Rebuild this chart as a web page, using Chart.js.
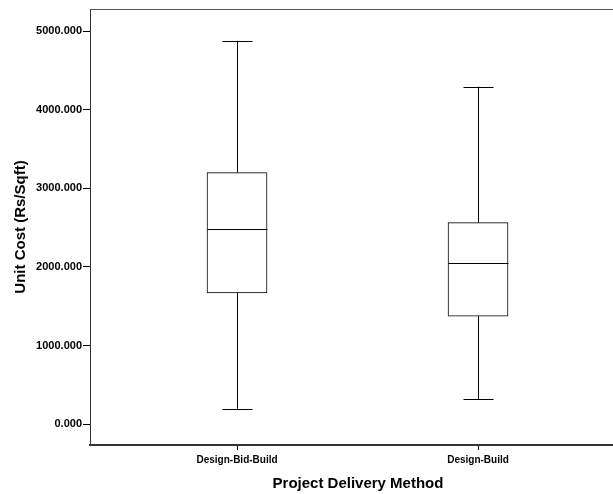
<!DOCTYPE html>
<html>
<head>
<meta charset="utf-8">
<script src="https://cdn.jsdelivr.net/npm/chart.js@4/dist/chart.umd.min.js"></script>
<style>
  html, body { margin: 0; padding: 0; background: #fff; overflow: hidden; }
  #wrap { width: 613px; height: 494px; overflow: hidden; }
</style>
</head>
<body>
<div id="wrap"><canvas id="boxChart" width="626" height="494"></canvas></div>
<script>
// Box plot values
const categories = ['Design-Bid-Build', 'Design-Build'];
const positions = [1, 2];
const whiskerLow = [195, 313];
const q1 = [1670, 1374];
const median = [2485, 2052];
const q3 = [3201, 2565];
const whiskerHigh = [4880, 4295];
const yTicks = [0, 1000, 2000, 3000, 4000, 5000];

const fontFamily = '"Liberation Sans", Arial, sans-serif';

// Whiskers, caps and median lines, drawn through the chart scales
const boxExtras = {
    id: 'boxExtras',
    afterDatasetsDraw(chart) {
        const ctx = chart.ctx;
        const xs = chart.scales.x;
        const ys = chart.scales.y;
        const meta = chart.getDatasetMeta(0);
        ctx.save();
        ctx.strokeStyle = '#000';
        ctx.lineWidth = 1;
        positions.forEach((p, i) => {
            const cx = Math.round(xs.getPixelForValue(p)) + 0.5;
            const half = meta.data[i].width / 2;
            const capHalf = half / 2;
            const yLow = ys.getPixelForValue(whiskerLow[i]);
            const yQ1 = ys.getPixelForValue(q1[i]);
            const yMed = Math.round(ys.getPixelForValue(median[i])) + 0.5;
            const yQ3 = ys.getPixelForValue(q3[i]);
            const yHigh = ys.getPixelForValue(whiskerHigh[i]);
            ctx.beginPath();
            ctx.moveTo(cx, yQ3); ctx.lineTo(cx, yHigh);
            ctx.moveTo(cx, yQ1); ctx.lineTo(cx, yLow);
            ctx.moveTo(cx - capHalf, Math.round(yHigh) + 0.5); ctx.lineTo(cx + capHalf, Math.round(yHigh) + 0.5);
            ctx.moveTo(cx - capHalf, Math.round(yLow) + 0.5); ctx.lineTo(cx + capHalf, Math.round(yLow) + 0.5);
            ctx.moveTo(cx - half, yMed); ctx.lineTo(cx + half, yMed);
            ctx.stroke();
        });
        // frame of the plot area
        const a = chart.chartArea;
        ctx.strokeStyle = '#555';
        ctx.beginPath();
        ctx.moveTo(a.left, a.top + 0.5); ctx.lineTo(a.right, a.top + 0.5);
        ctx.moveTo(a.right - 0.5, a.top); ctx.lineTo(a.right - 0.5, a.bottom);
        ctx.stroke();
        ctx.restore();
    }
};

const ctx = document.getElementById('boxChart').getContext('2d');
new Chart(ctx, {
    type: 'bar',
    data: {
        datasets: [{
            data: positions.map((p, i) => ({ x: p, y: [q1[i], q3[i]] })),
            backgroundColor: '#fff',
            borderColor: '#000',
            borderWidth: 1,
            borderSkipped: false,
            barThickness: 60
        }]
    },
    options: {
        responsive: false,
        animation: false,
        devicePixelRatio: 1,
        layout: { padding: { top: 9, left: 0, right: 0, bottom: 0 } },
        plugins: { legend: { display: false }, tooltip: { enabled: false } },
        scales: {
            x: {
                type: 'linear',
                offset: false,
                min: 0.39,
                max: 2.614,
                afterBuildTicks: (scale) => { scale.ticks = positions.map(v => ({ value: v })); },
                afterFit: (scale) => { scale.height = 49; },
                ticks: {
                    color: '#000',
                    font: { family: fontFamily, size: 10, weight: 'bold' },
                    padding: 4,
                    maxRotation: 0,
                    callback: (v) => categories[positions.indexOf(v)]
                },
                grid: { offset: false, drawOnChartArea: false, drawTicks: true, tickLength: 5, color: '#000' },
                border: { display: true, color: '#333', width: 2 },
                title: {
                    display: true,
                    text: 'Project Delivery Method',
                    color: '#000',
                    font: { family: fontFamily, size: 15, weight: 'bold' },
                    padding: { top: 0, bottom: 1 }
                }
            },
            y: {
                min: -267,
                max: 5284,
                afterBuildTicks: (scale) => { scale.ticks = yTicks.map(v => ({ value: v })); },
                afterFit: (scale) => { scale.width = 90; },
                ticks: {
                    color: '#000',
                    font: { family: fontFamily, size: 11, weight: 'bold' },
                    padding: 1,
                    callback: (v) => v.toFixed(3)
                },
                grid: { drawOnChartArea: false, drawTicks: true, tickLength: 7, color: '#000' },
                border: { display: true, color: '#333', width: 1 },
                title: {
                    display: true,
                    text: 'Unit Cost (Rs/Sqft)',
                    color: '#000',
                    font: { family: fontFamily, size: 15, weight: 'bold' },
                    padding: { top: 12, bottom: 0 }
                }
            }
        }
    },
    plugins: [boxExtras]
});
</script>
</body>
</html>
